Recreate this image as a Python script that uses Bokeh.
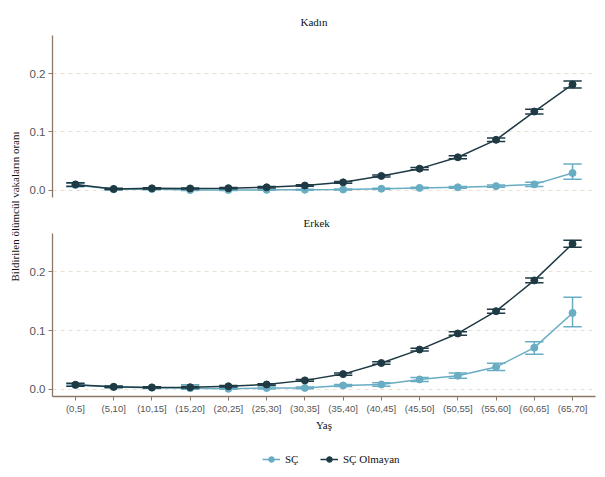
import numpy as np
from bokeh.plotting import figure
from bokeh.layouts import row, column
from bokeh.models import (ColumnDataSource, FixedTicker, Legend, LegendItem, Title,
                          Label, Range1d, NumeralTickFormatter)
from bokeh.embed import file_html
from bokeh.resources import INLINE

# ---------------- data ----------------
age_groups = ["(0,5]", "(5,10]", "(10,15]", "(15,20]", "(20,25]", "(25,30]", "(30,35]",
              "(35,40]", "(40,45]", "(45,50]", "(50,55]", "(55,60]", "(60,65]", "(65,70]"]

# Kadın (female)
kadin_sc = [0.0090, 0.0015, 0.0020, 0.0003, 0.0004, 0.0006, 0.0008,
            0.0012, 0.0025, 0.0040, 0.0050, 0.0070, 0.0100, 0.0295]
kadin_sc_lo = [0.0060, 0.0005, 0.0010, -0.0005, -0.0004, -0.0002, 0.0000,
               0.0004, 0.0015, 0.0028, 0.0035, 0.0052, 0.0062, 0.0190]
kadin_sc_hi = [0.0120, 0.0025, 0.0030, 0.0011, 0.0012, 0.0014, 0.0016,
               0.0020, 0.0035, 0.0052, 0.0065, 0.0088, 0.0138, 0.0450]

kadin_non = [0.0100, 0.0022, 0.0032, 0.0030, 0.0035, 0.0050, 0.0080,
             0.0135, 0.0245, 0.0370, 0.0565, 0.0865, 0.1350, 0.1815]
kadin_non_lo = [0.0070, 0.0012, 0.0022, 0.0020, 0.0025, 0.0038, 0.0067,
                0.0120, 0.0227, 0.0350, 0.0540, 0.0835, 0.1310, 0.1755]
kadin_non_hi = [0.0130, 0.0032, 0.0042, 0.0040, 0.0045, 0.0062, 0.0093,
                0.0150, 0.0263, 0.0390, 0.0590, 0.0895, 0.1390, 0.1875]

# Erkek (male)
erkek_sc = [0.0070, 0.0035, 0.0025, 0.0017, 0.0006, 0.0020, 0.0022,
            0.0063, 0.0080, 0.0166, 0.0229, 0.0377, 0.0708, 0.1300]
erkek_sc_lo = [0.0050, 0.0023, 0.0013, 0.0000, 0.0000, 0.0005, 0.0007,
               0.0045, 0.0050, 0.0130, 0.0185, 0.0320, 0.0594, 0.1064]
erkek_sc_hi = [0.0090, 0.0047, 0.0037, 0.0075, 0.0040, 0.0035, 0.0037,
               0.0081, 0.0110, 0.0200, 0.0275, 0.0440, 0.0810, 0.1566]

erkek_non = [0.0075, 0.0040, 0.0030, 0.0033, 0.0050, 0.0080, 0.0150,
             0.0257, 0.0446, 0.0675, 0.0950, 0.1330, 0.1855, 0.2480]
erkek_non_lo = [0.0050, 0.0028, 0.0018, 0.0021, 0.0038, 0.0067, 0.0135,
                0.0239, 0.0426, 0.0650, 0.0920, 0.1295, 0.1815, 0.2420]
erkek_non_hi = [0.0100, 0.0052, 0.0042, 0.0045, 0.0062, 0.0093, 0.0165,
                0.0275, 0.0466, 0.0700, 0.0980, 0.1365, 0.1895, 0.2540]

series_names = ["SÇ", "SÇ Olmayan"]
panel_titles = ["Kadın", "Erkek"]
y_ticks = [0.0, 0.1, 0.2]
x_label = "Yaş"
y_label = "Bildirilen ölümcül vakaların oranı"

# ---------------- style ----------------
LIGHT = "#68adc3"
DARK = "#1e3a44"
AXIS = "#8b7866"
GRID = "#ebe0d4"
TICKLAB = "#555555"
SERIF = "Liberation Serif"
SANS = "Liberation Sans"

x = list(range(1, len(age_groups) + 1))
CAP = 0.24

LEFT_W = 22
FIG_W = 582          # 30 left border + 543 frame + 9 right border
TOTAL_H = 477
Y_RANGE = (-0.0125, 0.2655)


def style_common(p):
    p.outline_line_color = None
    p.background_fill_color = "white"
    p.border_fill_color = "white"


def draw_series(p, vals, lo, hi, color, bars=True):
    xs = np.array(x, dtype=float)
    src = ColumnDataSource(dict(x=xs, y=vals, lo=lo, hi=hi,
                                xl=xs - CAP, xr=xs + CAP))
    if bars:
        p.segment(x0="x", y0="lo", x1="x", y1="hi", source=src, line_color=color, line_width=1.5)
        p.segment(x0="xl", y0="lo", x1="xr", y1="lo", source=src, line_color=color, line_width=1.5)
        p.segment(x0="xl", y0="hi", x1="xr", y1="hi", source=src, line_color=color, line_width=1.5)
    ln = p.line(x="x", y="y", source=src, line_color=color, line_width=1.5)
    sc = p.scatter(x="x", y="y", source=src, size=7, fill_color=color, line_color=color)
    return ln, sc


def make_panel(title, sc, sc_lo, sc_hi, non, non_lo, non_hi, bottom, title_offset,
               title_standoff, height, min_top, min_bottom):
    p = figure(width=FIG_W, height=height,
               x_range=Range1d(0.4, 14.6), y_range=Range1d(*Y_RANGE),
               toolbar_location=None, output_backend="svg",
               min_border_left=30, min_border_right=9,
               min_border_top=min_top, min_border_bottom=min_bottom)
    style_common(p)
    p.xgrid.visible = False
    p.ygrid.grid_line_color = GRID
    p.ygrid.grid_line_dash = "4 4"
    p.ygrid.grid_line_width = 1

    t = Title(text=title, align="left", offset=title_offset, standoff=title_standoff,
              text_font=SERIF, text_font_size="11px", text_font_style="normal",
              text_color="#111111")
    p.add_layout(t, "above")

    ya = p.yaxis[0]
    ya.ticker = FixedTicker(ticks=y_ticks)
    ya.formatter = NumeralTickFormatter(format="0.0")
    ya.axis_line_color = AXIS
    ya.axis_line_width = 1.3
    ya.major_tick_line_color = AXIS
    ya.major_tick_in = 0
    ya.major_tick_out = 4
    ya.minor_tick_line_color = None
    ya.major_label_text_font = SANS
    ya.major_label_text_font_size = "11.5px"
    ya.major_label_text_color = TICKLAB
    ya.major_label_standoff = 3

    xa = p.xaxis[0]
    xa.ticker = FixedTicker(ticks=x)
    xa.major_label_overrides = {i: lab for i, lab in zip(x, age_groups)}
    if bottom:
        xa.axis_line_color = AXIS
        xa.axis_line_width = 1.3
        xa.major_tick_line_color = AXIS
        xa.major_tick_in = 0
        xa.major_tick_out = 4
        xa.minor_tick_line_color = None
        xa.major_label_text_font = SANS
        xa.major_label_text_font_size = "9.5px"
        xa.major_label_text_color = TICKLAB
        xa.major_label_standoff = 2
        xa.axis_label = x_label
        xa.axis_label_text_font = SERIF
        xa.axis_label_text_font_size = "11px"
        xa.axis_label_text_font_style = "normal"
        xa.axis_label_text_color = "#111111"
        xa.axis_label_standoff = 2
    else:
        xa.visible = False

    draw_series(p, sc, sc_lo, sc_hi, LIGHT)
    draw_series(p, non, non_lo, non_hi, DARK)
    return p


top = make_panel(panel_titles[0], kadin_sc, kadin_sc_lo, kadin_sc_hi,
                 kadin_non, kadin_non_lo, kadin_non_hi, False, 248, 16,
                 205, 35, 8)
bot = make_panel(panel_titles[1], erkek_sc, erkek_sc_lo, erkek_sc_hi,
                 erkek_non, erkek_non_lo, erkek_non_hi, True, 251, 10,
                 235, 28, 44)

# ---- legend strip (series drawn outside its visible x range; only the legend shows) ----
LEG_H = TOTAL_H - 205 - 235
leg = figure(width=FIG_W, height=LEG_H, x_range=Range1d(-2, -1), y_range=Range1d(*Y_RANGE),
             toolbar_location=None, output_backend="svg", min_border=0)
style_common(leg)
leg.axis.visible = False
leg.grid.visible = False
l1, s1 = draw_series(leg, erkek_sc, erkek_sc_lo, erkek_sc_hi, LIGHT, bars=False)
l2, s2 = draw_series(leg, erkek_non, erkek_non_lo, erkek_non_hi, DARK, bars=False)
legend = Legend(items=[LegendItem(label=series_names[0], renderers=[l1, s1]),
                       LegendItem(label=series_names[1], renderers=[l2, s2])],
                orientation="horizontal", location=(210, 11),
                label_text_font=SERIF, label_text_font_size="11px",
                label_text_color="#111111",
                glyph_width=18, glyph_height=14, spacing=15, label_standoff=5,
                border_line_color=None, background_fill_alpha=0,
                padding=4, margin=0)
leg.add_layout(legend, "center")

# ---- shared y label ----
lab = figure(width=LEFT_W, height=TOTAL_H, x_range=(0, LEFT_W), y_range=(0, TOTAL_H),
             toolbar_location=None, output_backend="svg", min_border=0)
style_common(lab)
lab.axis.visible = False
lab.grid.visible = False
lab.add_layout(Label(x=14, y=TOTAL_H - 206, text=y_label, angle=np.pi / 2,
                     text_align="center", text_baseline="middle",
                     text_font=SERIF, text_font_size="11px", text_color="#111111"))

layout = row(lab, column(top, bot, leg, spacing=0), spacing=0)
open("out.html", "w").write(file_html(layout, INLINE))
